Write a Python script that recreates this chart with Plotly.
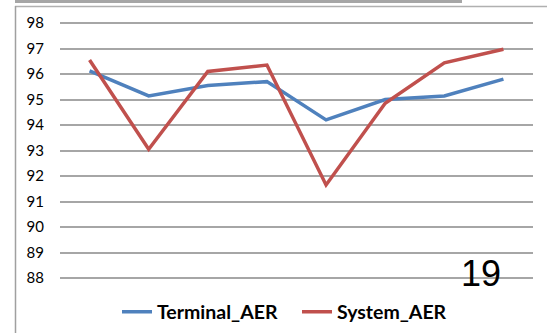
import plotly.graph_objects as go

W, H = 547, 333
UNIT = 25.5          # pixels per percentage point on the y axis
PAD = 4              # pixels of headroom above 98 and below 88
ML, MR, MT, MB = 60, 14, 23 - PAD, 55 - PAD

categories = ["1", "2", "3", "4", "5", "6", "7", "8"]
terminal_aer = [96.12, 95.14, 95.55, 95.7, 94.2, 95.0, 95.14, 95.8]
system_aer = [96.55, 93.05, 96.1, 96.35, 91.65, 94.85, 96.44, 96.97]
y_ticks = [88, 89, 90, 91, 92, 93, 94, 95, 96, 97, 98]

PW = W - ML - MR
PH = H - MT - MB


def px_x(x):
    return (x - ML) / PW


def px_y(y):
    return (H - MB - y) / PH


fig = go.Figure()
fig.add_trace(go.Scatter(x=categories, y=terminal_aer, mode="lines", name="Terminal_AER",
                         line=dict(color="#4F81BD", width=3.5)))
fig.add_trace(go.Scatter(x=categories, y=system_aer, mode="lines", name="System_AER",
                         line=dict(color="#C0504D", width=3.5)))

frame = [
    # thick bar along the very top
    dict(type="rect", xref="paper", yref="paper", x0=px_x(15), x1=px_x(462), y0=px_y(0), y1=px_y(3),
         fillcolor="#A6A6A6", line=dict(width=0)),
    # chart border: top and left edges
    dict(type="line", xref="paper", yref="paper", x0=px_x(15), x1=px_x(547), y0=px_y(6.5), y1=px_y(6.5),
         line=dict(color="#B0B0B0", width=1.5)),
    dict(type="line", xref="paper", yref="paper", x0=px_x(15.5), x1=px_x(15.5), y0=px_y(6), y1=px_y(333),
         line=dict(color="#A0A0A0", width=1.5)),
]

fig.update_layout(
    width=W, height=H,
    margin=dict(l=ML, r=MR, t=MT, b=MB, autoexpand=False),
    paper_bgcolor="white", plot_bgcolor="white",
    showlegend=True,
    legend=dict(orientation="h", x=px_x(117), xanchor="left", y=px_y(312), yanchor="middle",
                font=dict(family="Lato", size=19.5, color="#000000", weight="bold"),
                itemwidth=30, entrywidth=135, traceorder="normal"),
    xaxis=dict(type="category", showgrid=False, showline=False, showticklabels=False,
               ticks="", range=[-0.5, len(categories) - 0.5], automargin=False),
    yaxis=dict(range=[88 - PAD / UNIT, 98 + PAD / UNIT], tickvals=y_ticks, showgrid=True,
               gridcolor="#A6A6A6", gridwidth=1.5, zeroline=False, showline=False,
               ticks="outside", ticklen=12, tickcolor="rgba(0,0,0,0)",
               automargin=False, tickfont=dict(family="Lato", size=15, color="#000000")),
    shapes=frame,
    annotations=[dict(text="19", xref="paper", yref="paper", x=px_x(481), y=px_y(273),
                      xanchor="center", yanchor="middle", showarrow=False,
                      font=dict(family="Liberation Sans", size=36, color="#000000"))],
)

fig.write_html("out.html")
